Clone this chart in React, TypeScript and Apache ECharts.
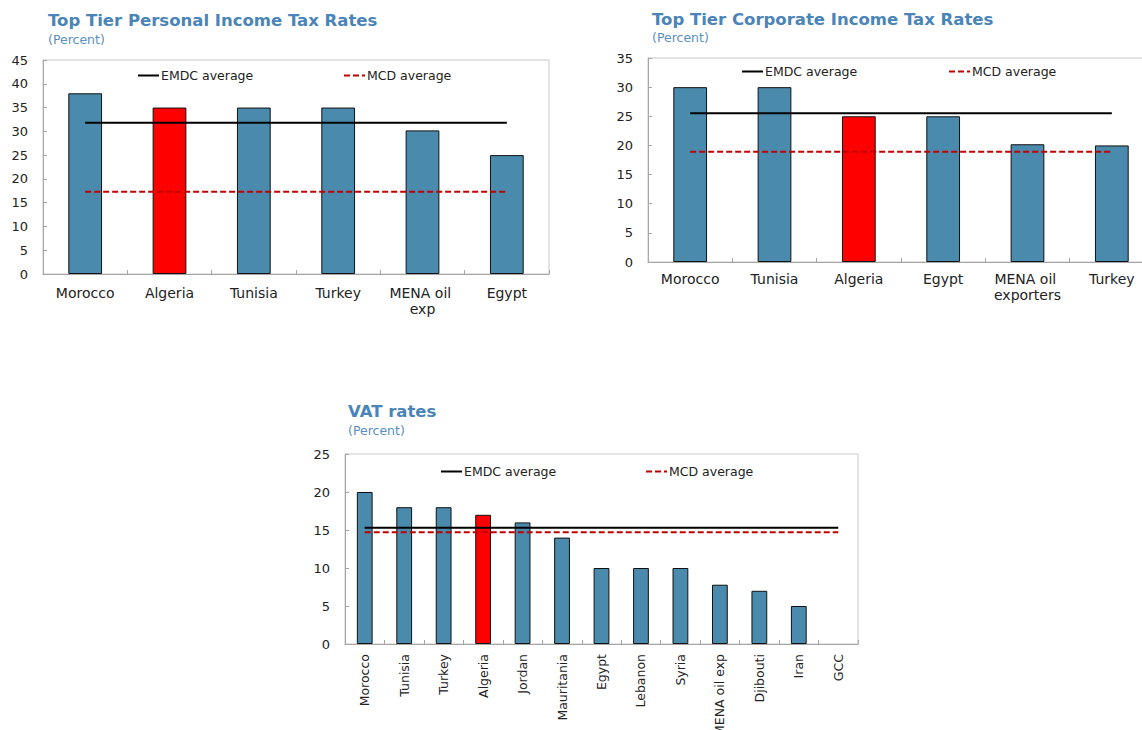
import React, { useEffect, useRef } from 'react';
import * as echarts from 'echarts';

const FONT = '"DejaVu Sans", Verdana, sans-serif';
const BAR_BLUE = '#4a8aad';
const BAR_RED = '#ff0000';
const TITLE_BLUE = '#4a84b8';
const SUB_BLUE = '#5b8fc4';
const HIGHLIGHT = 'Algeria';

// Panel 1: Top Tier Personal Income Tax Rates
const PIT_CATEGORIES = ['Morocco', 'Algeria', 'Tunisia', 'Turkey', 'MENA oil exp', 'Egypt'];
const PIT_VALUES = [38, 35, 35, 35, 30.2, 25];
const PIT_EMDC = 31.8;
const PIT_MCD = 17.3;
const PIT_TICKS = { min: 0, max: 45, interval: 5 };

// Panel 2: Top Tier Corporate Income Tax Rates
const CIT_CATEGORIES = ['Morocco', 'Tunisia', 'Algeria', 'Egypt', 'MENA oil exporters', 'Turkey'];
const CIT_VALUES = [30, 30, 25, 25, 20.2, 20];
const CIT_EMDC = 25.5;
const CIT_MCD = 18.9;
const CIT_TICKS = { min: 0, max: 35, interval: 5 };

// Panel 3: VAT rates
const VAT_CATEGORIES = ['Morocco', 'Tunisia', 'Turkey', 'Algeria', 'Jordan', 'Mauritania', 'Egypt', 'Lebanon', 'Syria', 'MENA oil exp', 'Djibouti', 'Iran', 'GCC'];
const VAT_VALUES: (number | null)[] = [20, 18, 18, 17, 16, 14, 10, 10, 10, 7.8, 7, 5, null];
const VAT_EMDC = 15.3;
const VAT_MCD = 14.7;
const VAT_TICKS = { min: 0, max: 25, interval: 5 };

type Panel = {
  title: string;
  titleLeft: number;
  titleTop: number;
  subGap: number;
  grid: { left: number; top: number; width: number; height: number };
  categories: string[];
  values: (number | null)[];
  emdc: number;
  mcd: number;
  ticks: { min: number; max: number; interval: number };
  labelSize: number;
  rotate: number;
  labelMargin: number;
  legendTop: number;
  legendLeft: [number, number];
};

const PANELS: Panel[] = [
  {
    title: 'Top Tier Personal Income Tax Rates',
    titleLeft: 48, titleTop: 11, subGap: 3,
    grid: { left: 43, top: 60, width: 506, height: 214 },
    categories: PIT_CATEGORIES, values: PIT_VALUES, emdc: PIT_EMDC, mcd: PIT_MCD, ticks: PIT_TICKS,
    labelSize: 14, rotate: 0, labelMargin: 11, legendTop: 69, legendLeft: [137, 343],
  },
  {
    title: 'Top Tier Corporate Income Tax Rates',
    titleLeft: 652, titleTop: 10, subGap: 2,
    grid: { left: 648, top: 58, width: 506, height: 204 },
    categories: CIT_CATEGORIES, values: CIT_VALUES, emdc: CIT_EMDC, mcd: CIT_MCD, ticks: CIT_TICKS,
    labelSize: 14, rotate: 0, labelMargin: 9, legendTop: 65, legendLeft: [741, 948],
  },
  {
    title: 'VAT rates',
    titleLeft: 348, titleTop: 402, subGap: 3,
    grid: { left: 345, top: 454, width: 513, height: 190 },
    categories: VAT_CATEGORIES, values: VAT_VALUES, emdc: VAT_EMDC, mcd: VAT_MCD, ticks: VAT_TICKS,
    labelSize: 12.5, rotate: 90, labelMargin: 10, legendTop: 465, legendLeft: [440, 645],
  },
];

function buildOption() {
  const title: any[] = [];
  const grid: any[] = [];
  const xAxis: any[] = [];
  const yAxis: any[] = [];
  const series: any[] = [];
  const legend: any[] = [];

  PANELS.forEach((p, i) => {
    title.push({
      text: p.title,
      subtext: '(Percent)',
      left: p.titleLeft,
      top: p.titleTop,
      padding: 0,
      itemGap: p.subGap,
      textStyle: { fontFamily: FONT, fontWeight: 'bold', fontSize: 16.5, lineHeight: 18, color: TITLE_BLUE },
      subtextStyle: { fontFamily: FONT, fontSize: 12.5, lineHeight: 14, color: SUB_BLUE },
    });
    grid.push({
      ...p.grid,
      show: true,
      borderColor: '#c8c8c8',
      borderWidth: 1,
      containLabel: false,
      outerBoundsMode: 'none',
    });
    xAxis.push({
      type: 'category',
      gridIndex: i,
      data: p.categories,
      boundaryGap: true,
      axisLine: { show: true, lineStyle: { color: '#a6a6a6', width: 1 } },
      axisTick: { show: true, inside: true, length: 4, lineStyle: { color: '#a6a6a6' } },
      axisLabel: {
        interval: 0,
        rotate: p.rotate,
        margin: p.labelMargin,
        color: '#222',
        fontFamily: FONT,
        fontSize: p.labelSize,
        lineHeight: 16,
        width: p.rotate ? undefined : 80,
        overflow: p.rotate ? 'none' : 'break',
      },
    });
    yAxis.push({
      type: 'value',
      gridIndex: i,
      min: p.ticks.min,
      max: p.ticks.max,
      interval: p.ticks.interval,
      splitLine: { show: false },
      axisLine: { show: true, lineStyle: { color: '#a6a6a6', width: 1 } },
      axisTick: { show: true, inside: true, length: 4, lineStyle: { color: '#a6a6a6' } },
      axisLabel: { margin: 15, color: '#222', fontFamily: FONT, fontSize: 13 },
    });
    series.push({
      type: 'bar',
      name: 'Rate',
      xAxisIndex: i,
      yAxisIndex: i,
      barWidth: '40%',
      data: p.values.map((v, k) => ({
        value: v,
        itemStyle: {
          color: p.categories[k] === HIGHLIGHT ? BAR_RED : BAR_BLUE,
          borderColor: '#111',
          borderWidth: 1,
        },
      })),
    });
    series.push({
      type: 'line',
      name: 'EMDC average',
      xAxisIndex: i,
      yAxisIndex: i,
      symbol: 'none',
      itemStyle: { color: '#000' },
      lineStyle: { color: '#000', width: 2 },
      data: p.categories.map(() => p.emdc),
      z: 5,
    });
    series.push({
      type: 'line',
      name: 'MCD average',
      xAxisIndex: i,
      yAxisIndex: i,
      symbol: 'none',
      itemStyle: { color: '#c00000' },
      lineStyle: { color: '#c00000', width: 2, type: [6, 3] },
      data: p.categories.map(() => p.mcd),
      z: 5,
    });
    ['EMDC average', 'MCD average'].forEach((name, j) => {
      legend.push({
        data: [name],
        left: p.legendLeft[j],
        top: p.legendTop,
        padding: 0,
        itemWidth: 21,
        itemHeight: 14,
        itemGap: 0,
        selectedMode: false,
        itemStyle: { color: 'rgba(0,0,0,0)', borderWidth: 0, opacity: 0 },
        textStyle: { fontFamily: FONT, fontSize: 12.5, color: '#222', padding: [0, 0, 0, -3] },
      });
    });
  });

  return {
    animation: false,
    backgroundColor: '#fff',
    title,
    grid,
    xAxis,
    yAxis,
    legend,
    series,
  };
}

export default function App() {
  const ref = useRef<HTMLDivElement>(null);
  useEffect(() => {
    if (!ref.current) return;
    const chart = echarts.init(ref.current, null, { renderer: 'svg' });
    chart.setOption(buildOption() as any);
    return () => chart.dispose();
  }, []);
  return (
    <div
      ref={ref}
      style={{ position: 'fixed', left: 0, top: 0, width: 1142, height: 730, background: '#fff' }}
    />
  );
}
